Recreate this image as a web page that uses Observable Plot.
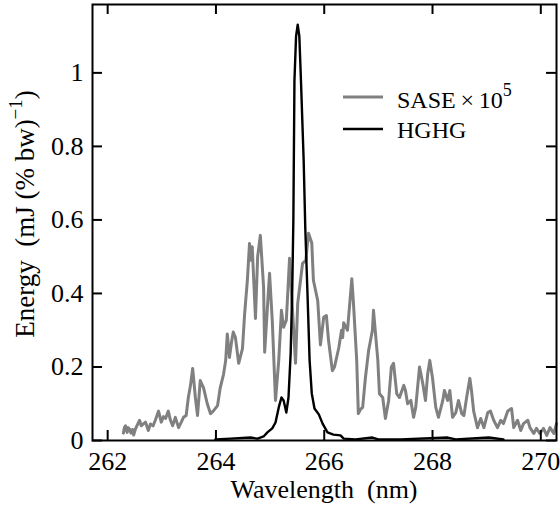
<!DOCTYPE html>
<html>
<head>
<meta charset="utf-8">
<script src="https://cdn.jsdelivr.net/npm/d3@7"></script>
<script src="https://cdn.jsdelivr.net/npm/@observablehq/plot@0.6"></script>
<style>
  html, body { margin: 0; padding: 0; background: white; }
  svg, svg text { font-family: "Liberation Serif", "Times New Roman", "DejaVu Serif", serif !important; }
</style>
</head>
<body>
<div id="chart"></div>
<script>
// ---- Data ----
const xTicks = [262, 264, 266, 268, 270];
const yTicks = [0, 0.2, 0.4, 0.6, 0.8, 1];

const saseWavelength = [
  262.29, 262.31, 262.33, 262.36, 262.38, 262.41, 262.43, 262.46, 262.48, 262.51,
  262.54, 262.59, 262.62, 262.66, 262.70, 262.75, 262.79, 262.84, 262.88, 262.94,
  262.99, 263.03, 263.07, 263.12, 263.16, 263.20, 263.25, 263.31, 263.36, 263.40,
  263.45, 263.49, 263.53, 263.57, 263.62, 263.66, 263.71, 263.77, 263.84, 263.90,
  263.95, 264.03, 264.08, 264.14, 264.18, 264.21, 264.25, 264.29, 264.32, 264.36,
  264.42, 264.49, 264.53, 264.58, 264.62, 264.65, 264.67, 264.73, 264.77, 264.82,
  264.88, 264.90, 264.95, 264.99, 265.04, 265.10, 265.16, 265.21, 265.25, 265.30,
  265.36, 265.47, 265.51, 265.60, 265.66, 265.71, 265.77, 265.80, 265.88, 265.93,
  265.99, 266.04, 266.08, 266.15, 266.19, 266.27, 266.32, 266.34, 266.36, 266.43,
  266.51, 266.54, 266.60, 266.63, 266.67, 266.71, 266.76, 266.82, 266.89, 266.91,
  266.99, 267.02, 267.08, 267.13, 267.19, 267.24, 267.28, 267.34, 267.39, 267.47,
  267.50, 267.54, 267.60, 267.65, 267.69, 267.76, 267.82, 267.87, 267.91, 267.95,
  268.00, 268.06, 268.11, 268.19, 268.22, 268.28, 268.32, 268.37, 268.43, 268.48,
  268.54, 268.58, 268.63, 268.69, 268.72, 268.76, 268.83, 268.89, 268.95, 269.02,
  269.07, 269.13, 269.20, 269.26, 269.31, 269.39, 269.46, 269.50, 269.57, 269.63,
  269.68, 269.76, 269.80, 269.87, 269.92, 269.98, 270.05, 270.11, 270.17, 270.24,
  270.29
];
const saseEnergy = [
  0.020, 0.035, 0.040, 0.022, 0.035, 0.030, 0.020, 0.030, 0.015, 0.030,
  0.040, 0.055, 0.040, 0.045, 0.050, 0.027, 0.045, 0.040, 0.055, 0.080,
  0.050, 0.065, 0.060, 0.080, 0.055, 0.040, 0.063, 0.035, 0.050, 0.063,
  0.068, 0.117, 0.150, 0.196, 0.117, 0.068, 0.163, 0.144, 0.100, 0.073,
  0.080, 0.095, 0.144, 0.180, 0.218, 0.290, 0.226, 0.270, 0.295, 0.280,
  0.210, 0.250, 0.345, 0.435, 0.536, 0.490, 0.527, 0.332, 0.500, 0.558,
  0.417, 0.240, 0.360, 0.455, 0.327, 0.109, 0.218, 0.354, 0.308, 0.327,
  0.496, 0.210, 0.373, 0.482, 0.490, 0.564, 0.537, 0.436, 0.380, 0.260,
  0.335, 0.340, 0.272, 0.190, 0.200, 0.253, 0.300, 0.280, 0.320, 0.300,
  0.440, 0.373, 0.218, 0.073, 0.085, 0.090, 0.170, 0.245, 0.300, 0.354,
  0.218, 0.127, 0.117, 0.060, 0.109, 0.200, 0.210, 0.127, 0.117, 0.150,
  0.136, 0.100, 0.109, 0.063, 0.090, 0.200, 0.155, 0.109, 0.180, 0.218,
  0.170, 0.090, 0.063, 0.109, 0.136, 0.109, 0.136, 0.063, 0.076, 0.109,
  0.073, 0.068, 0.117, 0.169, 0.136, 0.080, 0.035, 0.060, 0.035, 0.076,
  0.080, 0.055, 0.035, 0.055, 0.046, 0.080, 0.087, 0.035, 0.055, 0.027,
  0.046, 0.055, 0.035, 0.019, 0.033, 0.019, 0.033, 0.014, 0.035, 0.019,
  0.046
];

const hghgWavelength = [
  263.99, 264.27, 264.64, 264.77, 264.88, 264.95, 265.04, 265.10, 265.16, 265.21,
  265.25, 265.30, 265.34, 265.38, 265.41, 265.43, 265.45, 265.48, 265.51, 265.54,
  265.57, 265.62, 265.65, 265.69, 265.73, 265.77, 265.82, 265.90, 265.97, 266.06,
  266.17, 266.30, 266.36, 266.58, 266.89, 267.00, 267.41, 268.28, 268.43, 269.04,
  269.31
];
const hghgEnergy = [
  0.003, 0.005, 0.008, 0.005, 0.011, 0.022, 0.033, 0.049, 0.090, 0.117,
  0.109, 0.076, 0.117, 0.237, 0.417, 0.600, 0.980, 1.100, 1.131, 1.100,
  0.980, 0.763, 0.578, 0.403, 0.218, 0.128, 0.087, 0.071, 0.046, 0.022,
  0.016, 0.014, 0.005, 0.003, 0.008, 0.003, 0.003, 0.008, 0.003, 0.008,
  0.003
];

const sase = saseWavelength.map((w, i) => ({w, e: saseEnergy[i]}));
const hghg = hghgWavelength.map((w, i) => ({w, e: hghgEnergy[i]}));

const W = 560, H = 509;
const mL = 92, mR = 4, mT = 4, mB = 69;
const innerW = W - mL - mR, innerH = H - mT - mB;
const xDomain = [261.72, 270.29];
const yDomain = [0, 1.186];
const FONT = "Liberation Serif, Times New Roman, DejaVu Serif, serif";
const TK = 10; // inward tick length (px)
const tkX = TK / innerW * (xDomain[1] - xDomain[0]);
const tkY = TK / innerH * (yDomain[1] - yDomain[0]);
const tickStyle = {stroke: "black", strokeWidth: 2};

const chart = Plot.plot({
  width: W,
  height: H,
  marginLeft: mL,
  marginRight: mR,
  marginTop: mT,
  marginBottom: mB,
  style: {fontFamily: FONT, fontSize: "26px", background: "white", color: "black"},
  x: {domain: xDomain, axis: null},
  y: {domain: yDomain, axis: null},
  marks: [
    Plot.line(sase, {x: "w", y: "e", stroke: "#808080", strokeWidth: 3}),
    Plot.line(hghg, {x: "w", y: "e", stroke: "black", strokeWidth: 2.4}),
    Plot.frame({stroke: "black", strokeWidth: 2}),
    // inward ticks on all four sides
    Plot.ruleX(xTicks, {x: d => d, y1: yDomain[0], y2: yDomain[0] + tkY, ...tickStyle}),
    Plot.ruleX(xTicks, {x: d => d, y1: yDomain[1] - tkY, y2: yDomain[1], ...tickStyle}),
    Plot.ruleY(yTicks, {y: d => d, x1: xDomain[0], x2: xDomain[0] + tkX, ...tickStyle}),
    Plot.ruleY(yTicks, {y: d => d, x1: xDomain[1] - tkX, x2: xDomain[1], ...tickStyle}),
    // tick labels
    Plot.axisX(xTicks, {anchor: "bottom", tickSize: 0, tickPadding: 11, tickFormat: d => String(d), fontSize: 26, fontFamily: FONT, label: null}),
    Plot.axisY(yTicks, {anchor: "left", tickSize: 0, tickPadding: 9, tickFormat: d => String(d), fontSize: 26, fontFamily: FONT, label: null})
  ]
});
chart.setAttribute("font-family", FONT);

document.getElementById("chart").appendChild(chart);

const svg = d3.select(chart);
const cx = (mL + (W - mR)) / 2;

// x-axis title
svg.append("text")
  .attr("x", cx).attr("y", 498)
  .attr("text-anchor", "middle")
  .attr("font-family", FONT)
  .attr("font-size", 26)
  .attr("fill", "black")
  .style("white-space", "pre")
  .text("Wavelength  (nm)");

// y-axis title with superscript
const yt = svg.append("text")
  .attr("transform", "translate(34,214) rotate(-90)")
  .attr("text-anchor", "middle")
  .attr("font-family", FONT)
  .attr("font-size", 27)
  .attr("fill", "black")
  .style("white-space", "pre");
yt.append("tspan").text("Energy  (mJ (% bw)");
yt.append("tspan").attr("dy", -12).attr("font-size", 19).text("\u22121");
yt.append("tspan").attr("dy", 12).text(")");

// legend
const lg = svg.append("g").attr("text-anchor", "start").attr("font-family", FONT);
lg.append("line").attr("x1", 343).attr("x2", 383).attr("y1", 97).attr("y2", 97)
  .attr("stroke", "#808080").attr("stroke-width", 3);
const t1 = lg.append("text").attr("x", 397).attr("y", 108).attr("font-size", 24)
  .attr("text-anchor", "start").attr("fill", "black");
t1.append("tspan").text("SASE\u2009\u00d7\u200910");
t1.append("tspan").attr("dy", -12).attr("font-size", 18).text("5");
lg.append("line").attr("x1", 343).attr("x2", 383).attr("y1", 129).attr("y2", 129)
  .attr("stroke", "black").attr("stroke-width", 2.4);
lg.append("text").attr("x", 397).attr("y", 138).attr("font-size", 24)
  .attr("text-anchor", "start").attr("fill", "black").text("HGHG");
</script>
</body>
</html>
